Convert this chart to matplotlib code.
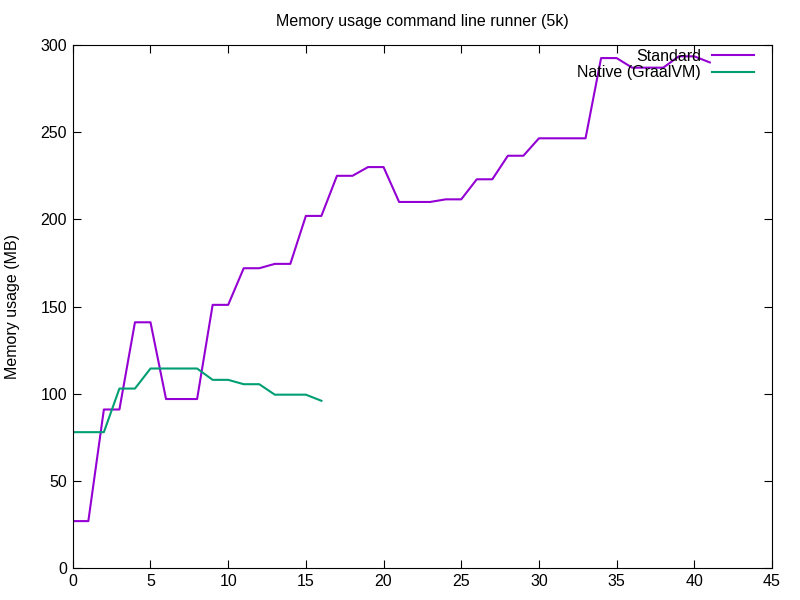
import matplotlib
matplotlib.use("Agg")
import matplotlib.pyplot as plt

plt.rcParams['font.family'] = ['Liberation Sans', 'DejaVu Sans']

# seconds since start
std_x = list(range(0, 42))
std_mb = [27, 27, 91, 91, 141, 141, 97, 97, 97, 151,
          151, 172, 172, 174.5, 174.5, 202, 202, 225, 225, 230,
          230, 210, 210, 210, 211.5, 211.5, 223, 223, 236.5, 236.5,
          246.5, 246.5, 246.5, 246.5, 292.5, 292.5, 287, 287, 287, 293.5,
          293.5, 290]

native_x = list(range(0, 17))
native_mb = [78, 78, 78, 103, 103, 114.5, 114.5, 114.5, 114.5, 108,
             108, 105.5, 105.5, 99.5, 99.5, 99.5, 96]

fig = plt.figure(figsize=(8, 6), dpi=100)
ax = fig.add_axes([0.091, 0.053, 0.874, 0.872])

ax.plot(std_x, std_mb, color='#9400D3', lw=1.5, label='Standard')
ax.plot(native_x, native_mb, color='#009E73', lw=1.5, label='Native (GraalVM)')

ax.set_xlim(0, 45)
ax.set_ylim(0, 300)
ax.set_xticks(range(0, 46, 5))
ax.set_yticks(range(0, 301, 50))
ax.tick_params(direction='in', top=True, right=True, labelsize=11.5, length=6, pad=4)
ax.set_ylabel('Memory usage (MB)', fontsize=11.5, labelpad=0)
ax.yaxis.set_label_coords(-0.075, 0.5)
ax.set_title('Memory usage command line runner (5k)', fontsize=11.5, pad=14)

ax.legend(loc='upper right', frameon=False, markerfirst=False, fontsize=11.5,
          handlelength=2.6, handletextpad=0.7, labelspacing=0.1, borderaxespad=0.1,
          bbox_to_anchor=(0.985, 1.008))

fig.savefig('out.png', dpi=100)
